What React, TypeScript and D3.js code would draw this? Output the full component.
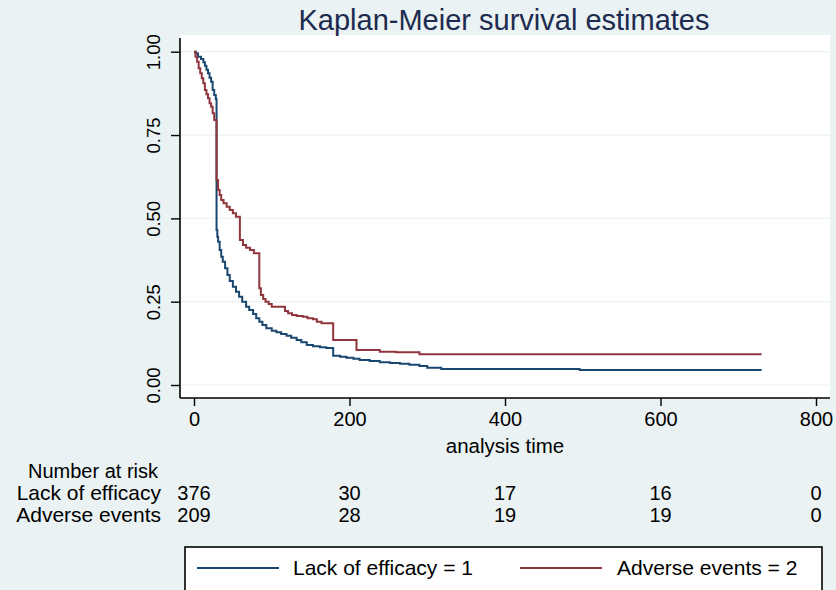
import React, { useRef, useEffect } from 'react';
import * as d3 from 'd3';

// Kaplan-Meier step points (time, survival)
const lackTimes = [0, 2, 5, 9, 12, 14, 16, 18, 20, 22, 24, 26, 28, 29, 30, 31, 33, 35, 37, 40, 43, 46, 50, 54, 58, 62, 67, 71, 76, 80, 84, 88, 93, 100, 106, 112, 119, 125, 132, 138, 145, 153, 162, 170, 179, 188, 196, 205, 213, 226, 239, 252, 265, 277, 290, 300, 318, 496, 730];
const lackSurv = [1.000, 0.995, 0.985, 0.978, 0.968, 0.958, 0.946, 0.935, 0.922, 0.910, 0.885, 0.870, 0.858, 0.465, 0.445, 0.430, 0.405, 0.385, 0.370, 0.350, 0.330, 0.312, 0.295, 0.280, 0.265, 0.250, 0.235, 0.225, 0.213, 0.200, 0.190, 0.180, 0.170, 0.163, 0.158, 0.153, 0.148, 0.142, 0.135, 0.128, 0.120, 0.116, 0.113, 0.111, 0.088, 0.085, 0.082, 0.079, 0.075, 0.072, 0.068, 0.066, 0.064, 0.061, 0.057, 0.052, 0.048, 0.045, 0.045];

const advTimes = [0, 2, 4, 6, 8, 10, 12, 14, 16, 18, 20, 22, 24, 26, 29, 31, 33, 35, 38, 42, 46, 50, 54, 59, 63, 67, 72, 77, 84, 86, 89, 92, 96, 100, 117, 121, 126, 132, 140, 146, 153, 158, 164, 179, 209, 239, 260, 290, 730];
const advSurv = [1.000, 0.985, 0.970, 0.950, 0.935, 0.920, 0.905, 0.885, 0.872, 0.860, 0.845, 0.835, 0.815, 0.795, 0.615, 0.585, 0.570, 0.555, 0.545, 0.535, 0.525, 0.515, 0.505, 0.435, 0.420, 0.412, 0.405, 0.395, 0.290, 0.270, 0.258, 0.250, 0.243, 0.235, 0.222, 0.215, 0.210, 0.207, 0.205, 0.200, 0.197, 0.190, 0.185, 0.135, 0.105, 0.100, 0.098, 0.092, 0.092];

const xTicks = [0, 200, 400, 600, 800];
const yTicks = [0, 0.25, 0.5, 0.75, 1];
const riskLabels = ['Lack of efficacy', 'Adverse events'];
const riskLack = [376, 30, 17, 16, 0];
const riskAdv = [209, 28, 19, 19, 0];
const legendLabels = ['Lack of efficacy = 1', 'Adverse events = 2'];

const FONT = '"Liberation Sans", Arial, Helvetica, sans-serif';
const BLUE = '#1a476f';
const RED = '#90353b';
const BG = '#eaf2f3';

const App = () => {
    const svgRef = useRef<SVGSVGElement>(null);
    const width = 836;
    const height = 590;
    const plot = { left: 180, right: 830, top: 35, bottom: 398 };

    useEffect(() => {
        const svg = d3.select(svgRef.current);
        svg.selectAll('*').remove();

        const xScale = d3.scaleLinear().domain([0, 800]).range([194, 816]);
        const yScale = d3.scaleLinear().domain([0, 1]).range([385, 51.7]);

        svg.append('rect').attr('width', width).attr('height', height).attr('fill', BG);

        svg.append('rect')
            .attr('x', plot.left).attr('y', plot.top)
            .attr('width', plot.right - plot.left).attr('height', plot.bottom - plot.top)
            .attr('fill', '#fff');

        // grid
        svg.append('g').selectAll('line')
            .data(yTicks)
            .join('line')
            .attr('x1', plot.left).attr('x2', plot.right)
            .attr('y1', d => yScale(d)).attr('y2', d => yScale(d))
            .attr('stroke', BG).attr('stroke-width', 1.2);

        // title
        svg.append('text')
            .attr('x', 504).attr('y', 30)
            .attr('text-anchor', 'middle')
            .attr('font-family', FONT).attr('font-size', 29)
            .attr('fill', '#1c2b4f')
            .text('Kaplan-Meier survival estimates');

        // y axis
        const yAxis = d3.axisLeft(yScale).tickValues(yTicks).tickFormat(d3.format('.2f')).tickSize(9).tickSizeOuter(0);
        const gy = svg.append('g').attr('transform', `translate(${plot.left},0)`).call(yAxis);
        gy.select('.domain').remove();
        gy.selectAll('line').attr('stroke', '#000').attr('stroke-width', 1.4);
        gy.selectAll('text')
            .attr('transform', 'rotate(-90)')
            .attr('x', 0).attr('y', -20).attr('dy', 0)
            .attr('text-anchor', 'middle')
            .attr('font-family', FONT).attr('font-size', 18.5).attr('fill', '#000');

        // x axis
        const xAxis = d3.axisBottom(xScale).tickValues(xTicks).tickSize(8).tickSizeOuter(0);
        const gx = svg.append('g').attr('transform', `translate(0,${plot.bottom})`).call(xAxis);
        gx.select('.domain').remove();
        gx.selectAll('line').attr('stroke', '#000').attr('stroke-width', 1.4);
        gx.selectAll('text')
            .attr('y', 28).attr('dy', 0)
            .attr('font-family', FONT).attr('font-size', 20).attr('fill', '#000');

        svg.append('line')
            .attr('x1', plot.left).attr('x2', plot.left)
            .attr('y1', 38).attr('y2', plot.bottom)
            .attr('stroke', '#000').attr('stroke-width', 1.6);
        svg.append('line')
            .attr('x1', plot.left).attr('x2', plot.right)
            .attr('y1', plot.bottom).attr('y2', plot.bottom)
            .attr('stroke', '#000').attr('stroke-width', 1.6);

        svg.append('text')
            .attr('x', 505).attr('y', 453)
            .attr('text-anchor', 'middle')
            .attr('font-family', FONT).attr('font-size', 20.5)
            .text('analysis time');

        // curves
        const line = d3.line<[number, number]>()
            .x(d => xScale(d[0]))
            .y(d => yScale(d[1]))
            .curve(d3.curveStepAfter);

        svg.append('path')
            .datum(d3.zip(lackTimes, lackSurv) as [number, number][])
            .attr('d', line)
            .attr('fill', 'none').attr('stroke', BLUE).attr('stroke-width', 2);

        svg.append('path')
            .datum(d3.zip(advTimes, advSurv) as [number, number][])
            .attr('d', line)
            .attr('fill', 'none').attr('stroke', RED).attr('stroke-width', 2);

        // number at risk
        const risk = svg.append('g').attr('font-family', FONT).attr('font-size', 20).attr('fill', '#000');
        risk.append('text').attr('x', 158).attr('y', 478).attr('text-anchor', 'end').text('Number at risk');
        [riskLack, riskAdv].forEach((row, i) => {
            const y = 500 + i * 22;
            risk.append('text').attr('x', 161).attr('y', y).attr('text-anchor', 'end')
                .attr('font-size', 21).text(riskLabels[i]);
            risk.selectAll(null)
                .data(row)
                .join('text')
                .attr('x', (d, j) => xScale(xTicks[j]))
                .attr('y', y)
                .attr('text-anchor', 'middle')
                .text(d => d);
        });

        // legend
        const lg = svg.append('g');
        lg.append('rect')
            .attr('x', 185).attr('y', 547).attr('width', 637).attr('height', 60)
            .attr('fill', '#fff').attr('stroke', '#000').attr('stroke-width', 1.6);
        const items = [
            { color: BLUE, x1: 197, x2: 279, tx: 293 },
            { color: RED, x1: 520, x2: 602, tx: 617 },
        ];
        items.forEach((it, i) => {
            lg.append('line')
                .attr('x1', it.x1).attr('x2', it.x2).attr('y1', 568).attr('y2', 568)
                .attr('stroke', it.color).attr('stroke-width', 2);
            lg.append('text')
                .attr('x', it.tx).attr('y', 575)
                .attr('font-family', FONT).attr('font-size', 21)
                .text(legendLabels[i]);
        });
    }, []);

    return (
        <svg ref={svgRef} width={width} height={height}
            style={{ position: 'absolute', left: 0, top: 0 }} />
    );
};

export default App;
